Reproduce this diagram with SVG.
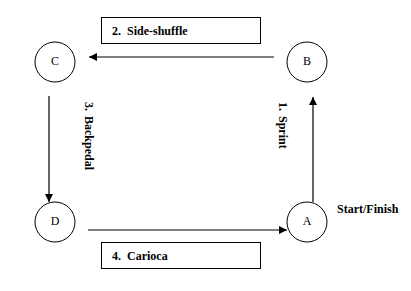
<svg xmlns="http://www.w3.org/2000/svg" width="411" height="291" viewBox="0 0 411 291">
<style>
.node circle{fill:#fff;stroke:#000;stroke-width:1}
.node text{font-family:"Liberation Serif",serif;font-size:12px;text-anchor:middle;fill:#000}
.lbl{font-family:"Liberation Serif",serif;font-size:12px;font-weight:bold;fill:#000}
.box{fill:#fff;stroke:#000;stroke-width:1}
.conn line{stroke:#000;stroke-width:1.2;marker-end:url(#ah)}
</style>
<defs>
<marker id="ah" viewBox="0 0 10 10" refX="10" refY="5" markerWidth="8" markerHeight="8" markerUnits="userSpaceOnUse" orient="auto">
<path d="M0,0 L10,5 L0,10 z" fill="#000"/>
</marker>
</defs>
<rect width="411" height="291" fill="#fff"/>
<g id="node-C" class="node"><circle cx="55" cy="62" r="20"/><text x="55" y="65">C</text></g>
<g id="node-B" class="node"><circle cx="307" cy="62" r="20"/><text x="307" y="65">B</text></g>
<g id="node-D" class="node"><circle cx="55" cy="222" r="20"/><text x="55" y="224.5">D</text></g>
<g id="node-A" class="node"><circle cx="307" cy="222" r="20"/><text x="307" y="224.5">A</text></g>
<g id="connectors" class="conn">
<line x1="274" y1="57" x2="89" y2="57"/>
<line x1="49" y1="96" x2="49" y2="202"/>
<line x1="88" y1="230" x2="287" y2="230"/>
<line x1="313" y1="202" x2="313" y2="97"/>
</g>
<g id="label-2">
<rect class="box" x="101.5" y="17.5" width="159" height="26"/>
<text class="lbl" y="35"><tspan x="112">2.</tspan><tspan x="127">Side-shuffle</tspan></text>
</g>
<g id="label-4">
<rect class="box" x="101.5" y="242.5" width="159" height="26"/>
<text class="lbl" y="260"><tspan x="112">4.</tspan><tspan x="127">Carioca</tspan></text>
</g>
<g id="label-3">
<text class="lbl" transform="translate(85,102) rotate(90)"><tspan x="0">3.</tspan><tspan x="14">Backpedal</tspan></text>
</g>
<g id="label-1">
<text class="lbl" transform="translate(279,102) rotate(90)"><tspan x="0">1.</tspan><tspan x="14">Sprint</tspan></text>
</g>
<text class="lbl" x="337" y="213">Start/Finish</text>
</svg>
